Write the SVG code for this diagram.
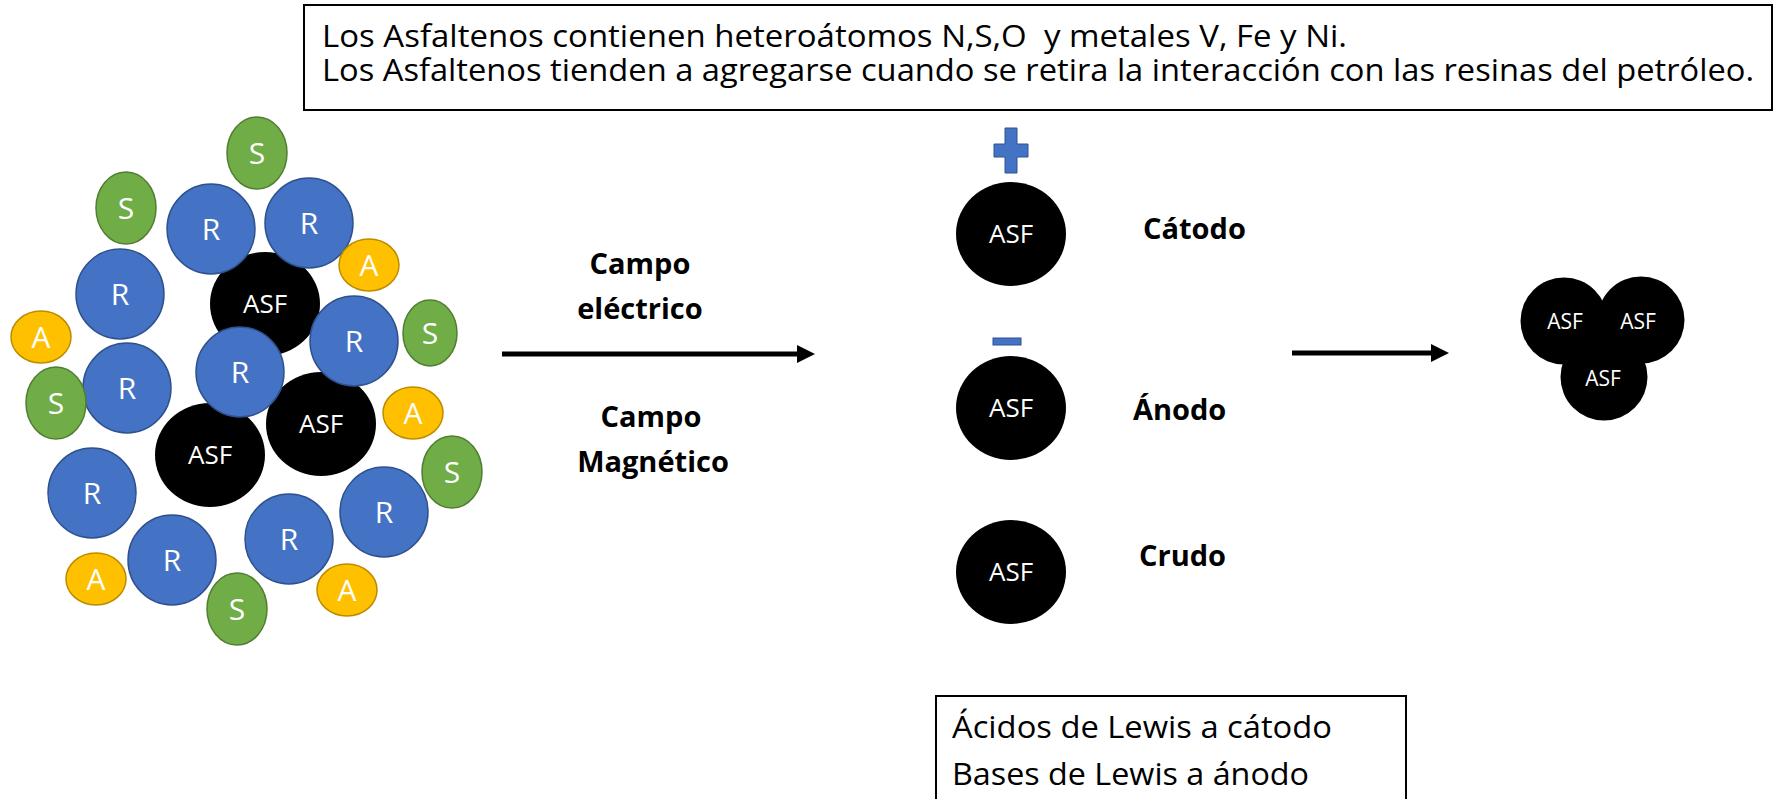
<svg xmlns="http://www.w3.org/2000/svg" width="1777" height="799" viewBox="0 0 1777 799">
<style>
text{font-family:"Open Sans","Noto Sans","Liberation Sans",sans-serif}
.asf{fill:#000}
.r{fill:#4472C4;stroke:#2F528F;stroke-width:1.5}
.s{fill:#70AD47;stroke:#507E32;stroke-width:1.5}
.a{fill:#FFC000;stroke:#BC8C00;stroke-width:1.5}
.lt{fill:#fff;text-anchor:middle;font-size:30px}
.la{fill:#fff;text-anchor:middle;font-size:26px}
.lg{fill:#fff;text-anchor:middle;font-size:21px}
.box{fill:#fff;stroke:#000;stroke-width:2}
.bt{fill:#000;font-size:31px}
.bold{fill:#000;font-size:29px;font-weight:bold}
.conn{stroke:#000;stroke-width:5;fill:none}
.sign{fill:#4472C4;stroke:#2F528F;stroke-width:1}
</style>
<defs>
<marker id="ah" markerUnits="userSpaceOnUse" markerWidth="20" markerHeight="20" refX="3" refY="9" orient="auto">
<path d="M0,0 L18,9 L0,18 z" fill="#000"/>
</marker>
</defs>

<g id="top-note">
<rect class="box" x="304" y="5" width="1468" height="105"/>
<text class="bt" x="322" y="47" textLength="1025" lengthAdjust="spacingAndGlyphs" xml:space="preserve">Los Asfaltenos contienen heteroátomos N,S,O  y metales V, Fe y Ni.</text>
<text class="bt" x="322" y="81" textLength="1432" lengthAdjust="spacingAndGlyphs">Los Asfaltenos tienden a agregarse cuando se retira la interacción con las resinas del petróleo.</text>
</g>

<g id="cluster">
<g id="asf-1"><ellipse class="asf" cx="265" cy="304" rx="55" ry="52"/><text class="la" x="265" y="313">ASF</text></g>
<g id="asf-2"><ellipse class="asf" cx="210" cy="455" rx="55" ry="52"/><text class="la" x="210" y="464">ASF</text></g>
<g id="asf-3"><ellipse class="asf" cx="321" cy="424" rx="55" ry="52"/><text class="la" x="321" y="433">ASF</text></g>

<g id="r-1"><ellipse class="r" cx="211" cy="229" rx="44" ry="45"/><text class="lt" x="211" y="240">R</text></g>
<g id="r-2"><ellipse class="r" cx="309" cy="223" rx="44" ry="45"/><text class="lt" x="309" y="234">R</text></g>
<g id="r-3"><ellipse class="r" cx="120" cy="294" rx="44" ry="45"/><text class="lt" x="120" y="305">R</text></g>
<g id="r-4"><ellipse class="r" cx="354" cy="341" rx="44" ry="45"/><text class="lt" x="354" y="352">R</text></g>
<g id="r-5"><ellipse class="r" cx="240" cy="372" rx="44" ry="45"/><text class="lt" x="240" y="383">R</text></g>
<g id="r-6"><ellipse class="r" cx="127" cy="388" rx="44" ry="45"/><text class="lt" x="127" y="399">R</text></g>
<g id="r-7"><ellipse class="r" cx="92" cy="493" rx="44" ry="45"/><text class="lt" x="92" y="504">R</text></g>
<g id="r-8"><ellipse class="r" cx="384" cy="512" rx="44" ry="45"/><text class="lt" x="384" y="523">R</text></g>
<g id="r-9"><ellipse class="r" cx="289" cy="539" rx="44" ry="45"/><text class="lt" x="289" y="550">R</text></g>
<g id="r-10"><ellipse class="r" cx="172" cy="560" rx="44" ry="45"/><text class="lt" x="172" y="571">R</text></g>

<g id="s-1"><ellipse class="s" cx="257" cy="153" rx="30" ry="36"/><text class="lt" x="257" y="164">S</text></g>
<g id="s-2"><ellipse class="s" cx="126" cy="208" rx="30" ry="36"/><text class="lt" x="126" y="219">S</text></g>
<g id="s-3"><ellipse class="s" cx="430" cy="333" rx="27" ry="33"/><text class="lt" x="430" y="344">S</text></g>
<g id="s-4"><ellipse class="s" cx="56" cy="403" rx="30" ry="36"/><text class="lt" x="56" y="414">S</text></g>
<g id="s-5"><ellipse class="s" cx="452" cy="472" rx="30" ry="36"/><text class="lt" x="452" y="483">S</text></g>
<g id="s-6"><ellipse class="s" cx="237" cy="609" rx="30" ry="36"/><text class="lt" x="237" y="620">S</text></g>

<g id="a-1"><ellipse class="a" cx="369" cy="265" rx="30" ry="26"/><text class="lt" x="369" y="276">A</text></g>
<g id="a-2"><ellipse class="a" cx="41" cy="337" rx="30" ry="26"/><text class="lt" x="41" y="348">A</text></g>
<g id="a-3"><ellipse class="a" cx="413" cy="413" rx="30" ry="26"/><text class="lt" x="413" y="424">A</text></g>
<g id="a-4"><ellipse class="a" cx="96" cy="579" rx="30" ry="26"/><text class="lt" x="96" y="590">A</text></g>
<g id="a-5"><ellipse class="a" cx="347" cy="590" rx="30" ry="26"/><text class="lt" x="347" y="601">A</text></g>
</g>

<g id="field-labels">
<text class="bold" x="640" y="274" text-anchor="middle">Campo</text>
<text class="bold" x="640" y="319" text-anchor="middle">eléctrico</text>
<text class="bold" x="651" y="427" text-anchor="middle">Campo</text>
<text class="bold" x="653" y="472" text-anchor="middle">Magnético</text>
</g>

<g id="connectors">
<line class="conn" x1="502" y1="354" x2="800" y2="354" marker-end="url(#ah)"/>
<line class="conn" x1="1292" y1="353" x2="1434" y2="353" marker-end="url(#ah)"/>
</g>

<g id="cathode">
<path class="sign" d="M1005,128 H1017 V144 H1028 V157 H1017 V173 H1005 V157 H994 V144 H1005 Z"/>
<ellipse class="asf" cx="1011" cy="234" rx="55" ry="52"/>
<text class="la" x="1011" y="243">ASF</text>
<text class="bold" x="1143" y="239">Cátodo</text>
</g>

<g id="anode">
<rect class="sign" x="993" y="338" width="28" height="7"/>
<ellipse class="asf" cx="1011" cy="408" rx="55" ry="52"/>
<text class="la" x="1011" y="417">ASF</text>
<text class="bold" x="1133" y="420">Ánodo</text>
</g>

<g id="crude">
<ellipse class="asf" cx="1011" cy="572" rx="55" ry="52"/>
<text class="la" x="1011" y="581">ASF</text>
<text class="bold" x="1139" y="566">Crudo</text>
</g>

<g id="aggregate">
<circle class="asf" cx="1564" cy="321" r="43.5"/>
<circle class="asf" cx="1641" cy="320" r="43.5"/>
<circle class="asf" cx="1604" cy="377" r="43.5"/>
<text class="lg" x="1565" y="329">ASF</text>
<text class="lg" x="1638" y="329">ASF</text>
<text class="lg" x="1603" y="386">ASF</text>
</g>

<g id="lewis-note">
<rect class="box" x="936" y="696" width="470" height="120"/>
<text class="bt" x="952" y="738" textLength="380" lengthAdjust="spacingAndGlyphs">Ácidos de Lewis a cátodo</text>
<text class="bt" x="952" y="785" textLength="357" lengthAdjust="spacingAndGlyphs">Bases de Lewis a ánodo</text>
</g>
</svg>
